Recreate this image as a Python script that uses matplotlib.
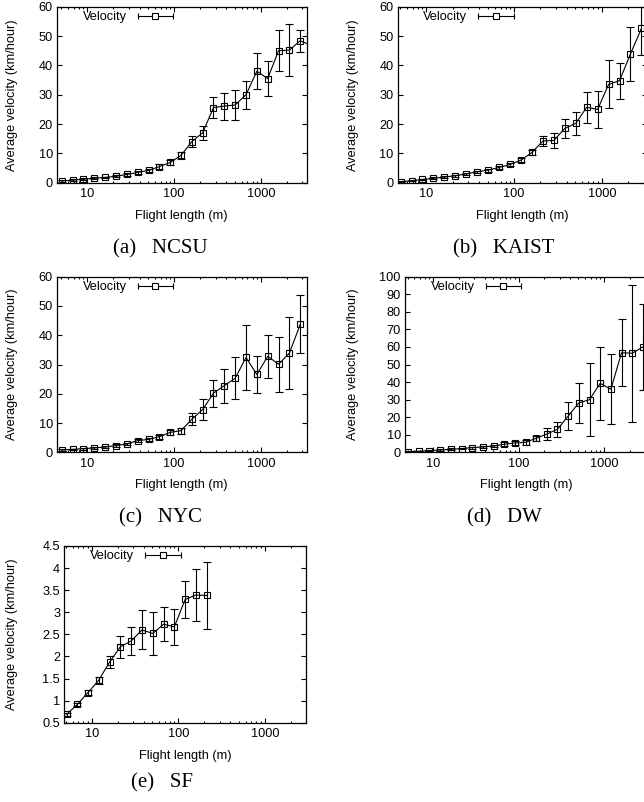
import matplotlib
matplotlib.use("Agg")
import matplotlib.pyplot as plt
from matplotlib.lines import Line2D
from matplotlib.legend_handler import HandlerLine2D, HandlerTuple
from matplotlib.ticker import FormatStrFormatter, NullFormatter, NullLocator, LogLocator, MultipleLocator

plt.rcParams['font.family'] = ['Liberation Sans', 'DejaVu Sans']

# ---------------- data ----------------
flight_len = [5.1, 6.8, 9.0, 12.0, 16.0, 21.4, 28.5, 38.0, 50.7, 67.5, 90.0, 120,
              160, 213, 284, 379, 505, 673, 898, 1197, 1596, 2128, 2837, 3780]

ncsu_vel = [0.6, 0.9, 1.2, 1.5, 1.8, 2.2, 2.8, 3.5, 4.2, 5.5, 6.9, 9.3,
            14.0, 17.0, 25.6, 26.1, 26.5, 30.0, 38.0, 35.5, 45.0, 45.2, 48.4, 46.8]
ncsu_err = [0.2, 0.2, 0.3, 0.3, 0.3, 0.4, 0.4, 0.5, 0.6, 0.8, 0.8, 1.2,
            1.8, 2.4, 3.6, 4.6, 5.2, 4.8, 6.1, 6.0, 6.9, 8.8, 3.8, 4.0]

kaist_vel = [0.35, 0.7, 1.1, 1.5, 1.9, 2.4, 3.0, 3.75, 4.3, 5.2, 6.25, 7.7,
             10.3, 14.2, 14.4, 18.5, 20.2, 25.7, 25.0, 33.5, 34.8, 43.9, 52.6]
kaist_err = [0.2, 0.2, 0.2, 0.3, 0.3, 0.3, 0.4, 0.4, 0.5, 0.5, 0.6, 0.8,
             0.9, 1.8, 2.6, 3.3, 3.9, 5.2, 6.3, 8.2, 6.1, 9.3, 9.0]

nyc_vel = [0.8, 1.0, 1.25, 1.5, 1.8, 2.3, 2.85, 4.0, 4.4, 5.35, 6.8, 7.4,
           11.3, 14.6, 20.2, 22.8, 25.3, 32.4, 26.6, 32.8, 30.1, 33.9, 43.7]
nyc_err = [0.2, 0.2, 0.3, 0.3, 0.3, 0.4, 0.4, 0.5, 0.6, 0.7, 0.8, 1.0,
           2.0, 3.6, 4.6, 5.8, 7.2, 11.2, 6.4, 7.4, 9.4, 12.4, 9.9]

dw_vel = [0.4, 0.6, 0.9, 1.3, 1.7, 2.1, 2.7, 3.0, 3.6, 4.6, 5.3, 5.7,
          8.0, 10.4, 13.1, 20.7, 28.1, 30.0, 39.3, 35.9, 56.7, 56.4, 60.0]
dw_err = [0.3, 0.3, 0.4, 0.4, 0.5, 0.5, 0.6, 0.7, 0.8, 1.0, 1.2, 1.3,
          1.5, 3.4, 4.3, 8.2, 11.4, 20.9, 20.8, 20.0, 19.2, 39.1, 24.3]

sf_vel = [0.69, 0.915, 1.18, 1.46, 1.87, 2.22, 2.35, 2.6, 2.52, 2.73, 2.67, 3.29, 3.39, 3.38]
sf_err = [0.04, 0.04, 0.05, 0.08, 0.14, 0.25, 0.31, 0.44, 0.49, 0.39, 0.41, 0.42, 0.58, 0.75]

x_ticks = [10, 100, 1000]
x_ticklabels = ['10', '100', '1000']
captions = ['(a)   NCSU', '(b)   KAIST', '(c)   NYC', '(d)   DW', '(e)   SF']
legend_label = 'Velocity'
xlabel = 'Flight length (m)'
ylabel = 'Average velocity (km/hour)'

# ---------------- layout ----------------
W, H = 644, 802
fig = plt.figure(figsize=(W / 100, H / 100), dpi=100)

panels = [
    # (values, errors, axes px box (l, t, r, b), xlim, ylim, ytick step, caption xy px, ylabel x px)
    (ncsu_vel, ncsu_err, (57, 6.7, 306.5, 182.7), (4.47, 3350), (0, 60), 10, (160, 249), 11.7),
    (kaist_vel, kaist_err, (397.7, 6.7, 647.2, 182.7), (4.7, 3300), (0, 60), 10, (504, 249), 353.3),
    (nyc_vel, nyc_err, (57, 276.7, 306.5, 452.3), (4.47, 3350), (0, 60), 10, (160, 518), 11.7),
    (dw_vel, dw_err, (405, 276.7, 648.5, 452.3), (4.66, 3300), (0, 100), 10, (504, 518), 353.3),
    (sf_vel, sf_err, (64.3, 546, 306, 722.7), (4.8, 3000), (0.5, 4.5), 0.5, (162, 783), 11.7),
]

FS = 9.2
for (vel, err, (l, t, r, b), xlim, ylim, ystep, cap_xy, ylab_x), cap in zip(panels, captions):
    ax = fig.add_axes([l / W, 1 - b / H, (r - l) / W, (b - t) / H])
    n = len(vel)
    xs = flight_len[:n]
    ax.errorbar(xs, vel, yerr=err, fmt='-', color='black', lw=0.8,
                marker='s', markersize=5, markerfacecolor='none', markeredgecolor='black',
                markeredgewidth=0.8, ecolor='black', elinewidth=0.8, capsize=2.6, capthick=0.8)
    ax.set_xscale('log')
    ax.set_xlim(*xlim)
    ax.set_ylim(*ylim)
    ax.set_xticks(x_ticks)
    ax.set_xticklabels(x_ticklabels)
    ax.xaxis.set_minor_locator(LogLocator(base=10, subs=[2, 3, 4, 5, 6, 7, 8, 9]))
    ax.xaxis.set_minor_formatter(NullFormatter())
    ax.yaxis.set_major_locator(MultipleLocator(ystep))
    ax.yaxis.set_minor_locator(NullLocator())
    ax.yaxis.set_major_formatter(FormatStrFormatter('%g'))
    ax.tick_params(which='both', direction='in', top=True, right=True, width=0.8,
                   labelsize=FS, colors='black')
    ax.tick_params(which='major', length=5 * 0.72)
    ax.tick_params(which='minor', length=2.5 * 0.72)
    ax.tick_params(axis='x', pad=4)
    ax.tick_params(axis='y', pad=3)
    for sp in ax.spines.values():
        sp.set_linewidth(0.9)
        sp.set_color('black')

    hpx = b - t
    wpx = r - l
    ax.set_xlabel(xlabel, fontsize=FS)
    ax.xaxis.set_label_coords(0.5, -33 / hpx)
    ax.xaxis.label.set_va('center')
    ax.set_ylabel(ylabel, fontsize=FS)
    ax.yaxis.set_label_coords((ylab_x - l) / wpx, 0.5)
    ax.yaxis.label.set_va('center')

    # legend: text first, then a horizontal errorbar key with end caps and a square
    caps = Line2D([], [], color='black', lw=0.8, marker='|', markersize=4.5, markeredgewidth=0.8)
    sq = Line2D([], [], linestyle='none', marker='s', markersize=5, markerfacecolor='white',
                markeredgecolor='black', markeredgewidth=0.8)
    ax.legend([(caps, sq)], [legend_label], loc='upper left',
              bbox_to_anchor=(25.7 / wpx, 1 - 4.5 / hpx), frameon=False,
              borderpad=0, borderaxespad=0, handlelength=2.8, handletextpad=0.85,
              markerfirst=False, fontsize=FS,
              handler_map={caps: HandlerLine2D(numpoints=2, marker_pad=0),
                           sq: HandlerLine2D(numpoints=1),
                           tuple: HandlerTuple(ndivide=1)})

    fig.text(cap_xy[0] / W, 1 - cap_xy[1] / H, cap, ha='center', va='center',
             fontsize=15, family=['Liberation Serif', 'DejaVu Serif'], color='black')

fig.savefig('out.png', dpi=100)
